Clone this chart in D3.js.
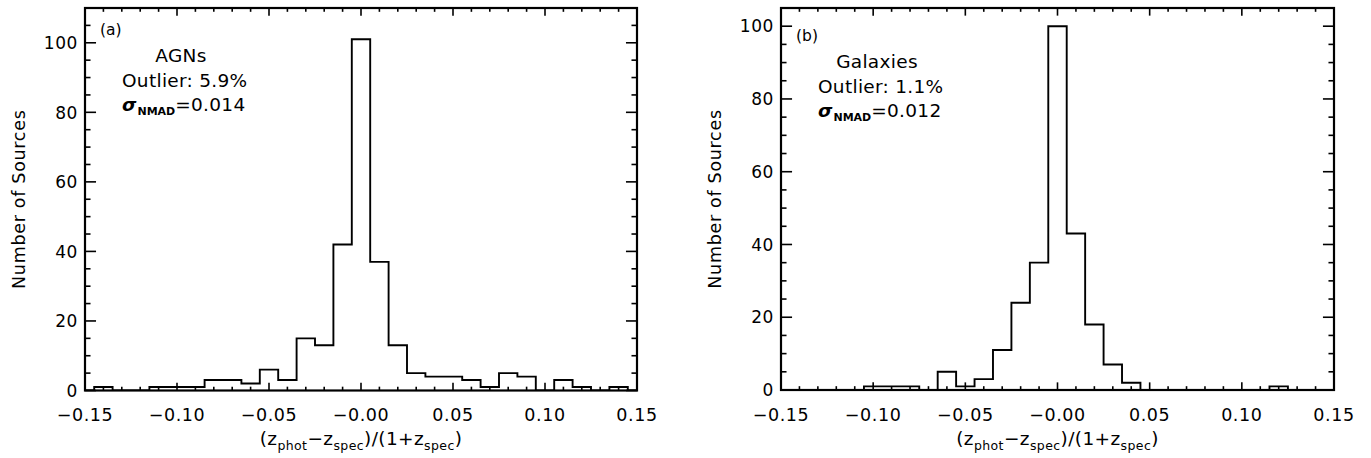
<!DOCTYPE html>
<html>
<head>
<meta charset="utf-8">
<script src="https://cdn.jsdelivr.net/npm/d3@7"></script>
<style>
  html, body { margin: 0; padding: 0; background: #fff; }
  svg { display: block; }
  text { font-family: "DejaVu Sans", sans-serif; fill: #000; }
</style>
</head>
<body>
<svg id="chart" width="1371" height="458"></svg>
<script>
// ---- data ----
const binCenters = [-0.15,-0.14,-0.13,-0.12,-0.11,-0.10,-0.09,-0.08,-0.07,-0.06,-0.05,-0.04,-0.03,-0.02,-0.01,0.00,
                    0.01,0.02,0.03,0.04,0.05,0.06,0.07,0.08,0.09,0.10,0.11,0.12,0.13,0.14,0.15];
const agnCounts    = [0,1,0,0,1,1,1,3,3,2,6,3,15,13,42,101,37,13,5,4,4,3,1,5,4,0,3,1,0,1,0];
const galaxyCounts = [0,0,0,0,0,1,1,1,0,5,1,3,11,24,35,100,43,18,7,2,0,0,0,0,0,0,0,1,0,0,0];

const xTickValues = [-0.15,-0.10,-0.05,0.00,0.05,0.10,0.15];
const xTickLabels = ["\u22120.15","\u22120.10","\u22120.05","\u22120.00","0.05","0.10","0.15"];
const yTickValues = [0,20,40,60,80,100];
const yTickLabels = ["0","20","40","60","80","100"];

const panelLetters = ["(a)","(b)"];
const panelNames   = ["AGNs","Galaxies"];
const outlierTexts = ["Outlier: 5.9%","Outlier: 1.1%"];
const nmadValues   = ["=0.014","=0.012"];
const yMaxValues   = [110,105];

// ---- layout ----
const svg = d3.select("#chart");
const panels = [
  {left: 85,  right: 637,  top: 8, bottom: 390.5, counts: agnCounts,    textShift: 0},
  {left: 781, right: 1334, top: 8, bottom: 390,   counts: galaxyCounts, textShift: 6}
];

panels.forEach((p, idx) => {
  const g = svg.append("g");
  const x = d3.scaleLinear().domain([-0.15, 0.15]).range([p.left, p.right]);
  const y = d3.scaleLinear().domain([0, yMaxValues[idx]]).range([p.bottom, p.top]);
  const W = p.right - p.left, H = p.bottom - p.top;
  const xMajLen = 0.02 * H, yMajLen = 0.02 * W;

  // clip
  const clipId = "clip" + idx;
  svg.append("clipPath").attr("id", clipId).append("rect")
    .attr("x", p.left).attr("y", p.top).attr("width", W).attr("height", H);

  // histogram step line
  const line = d3.line()
    .x((d, i) => x(binCenters[i]))
    .y(d => y(d))
    .curve(d3.curveStep);
  // extend half a bin on each end as IDL psym=10 does
  g.append("path")
    .attr("clip-path", `url(#${clipId})`)
    .attr("d", d3.line().x(d => x(d[0])).y(d => y(d[1])).curve(d3.curveStep)(
      [[binCenters[0] - 0.005, p.counts[0]]]
        .concat(binCenters.map((c, i) => [c, p.counts[i]]))
        .concat([[binCenters[binCenters.length - 1] + 0.005, p.counts[p.counts.length - 1]]])
    ))
    .attr("fill", "none").attr("stroke", "#000").attr("stroke-width", 1.9)
    .attr("stroke-linejoin", "miter");

  // ticks
  const tickG = g.append("g").attr("stroke", "#000").attr("stroke-width", 1.6);
  const xMinor = d3.range(-15, 16).map(v => v / 100);
  xMinor.forEach(v => {
    const major = xTickValues.some(t => Math.abs(t - v) < 1e-9);
    const len = major ? xMajLen : xMajLen / 2;
    const xx = x(v);
    tickG.append("line").attr("x1", xx).attr("x2", xx).attr("y1", p.bottom).attr("y2", p.bottom - len);
    tickG.append("line").attr("x1", xx).attr("x2", xx).attr("y1", p.top).attr("y2", p.top + len);
  });
  const yMinor = d3.range(0, yMaxValues[idx] + 0.001, 5);
  yMinor.forEach(v => {
    const major = yTickValues.includes(v);
    const len = major ? yMajLen : yMajLen / 2;
    const yy = y(v);
    tickG.append("line").attr("y1", yy).attr("y2", yy).attr("x1", p.left).attr("x2", p.left + len);
    tickG.append("line").attr("y1", yy).attr("y2", yy).attr("x1", p.right).attr("x2", p.right - len);
  });

  // frame
  g.append("rect").attr("x", p.left).attr("y", p.top).attr("width", W).attr("height", H)
    .attr("fill", "none").attr("stroke", "#000").attr("stroke-width", 2.2);

  // tick labels
  xTickValues.forEach((v, i) => {
    g.append("text").attr("x", x(v)).attr("y", 421)
      .attr("text-anchor", "middle").attr("font-size", 17.5).attr("letter-spacing", 0.6)
      .text(xTickLabels[i]);
  });
  yTickValues.forEach((v, i) => {
    g.append("text").attr("x", p.left - 7).attr("y", y(v) + 6.2)
      .attr("text-anchor", "end").attr("font-size", 17).attr("letter-spacing", 0.6)
      .text(yTickLabels[i]);
  });

  // axis titles
  g.append("text")
    .attr("transform", `translate(${p.left - 60},${(p.top + p.bottom) / 2 + 0}) rotate(-90)`)
    .attr("text-anchor", "middle").attr("font-size", 17.5).attr("letter-spacing", 0.7)
    .text("Number of Sources");

  const xl = g.append("text").attr("x", (p.left + p.right) / 2).attr("y", 445)
    .attr("text-anchor", "middle").attr("font-size", 18.5).attr("letter-spacing", 0.4);
  const sub = 12.5, sh = 5;
  xl.append("tspan").text("(z");
  xl.append("tspan").attr("font-size", sub).attr("dy", sh).text("phot");
  xl.append("tspan").attr("dy", -sh).text("\u2212z");
  xl.append("tspan").attr("font-size", sub).attr("dy", sh).text("spec");
  xl.append("tspan").attr("dy", -sh).text(")/(1+z");
  xl.append("tspan").attr("font-size", sub).attr("dy", sh).text("spec");
  xl.append("tspan").attr("dy", -sh).text(")");

  // annotations
  const ts = p.textShift;
  g.append("text").attr("x", p.left + 15).attr("y", 35 + ts).attr("font-size", 15.5)
    .text(panelLetters[idx]);
  g.append("text").attr("x", p.left + 96).attr("y", 62 + ts).attr("text-anchor", "middle")
    .attr("font-size", 18.5).attr("letter-spacing", 0.3).text(panelNames[idx]);
  g.append("text").attr("x", p.left + 37).attr("y", 87 + ts)
    .attr("font-size", 18.5).attr("letter-spacing", 0.3).text(outlierTexts[idx]);
  const s = g.append("text").attr("x", p.left + 37).attr("y", 111 + ts).attr("font-size", 18.5);
  s.append("tspan").attr("font-style", "italic").attr("font-weight", "bold").text("\u03C3");
  s.append("tspan").attr("font-size", 11).attr("font-weight", "bold").attr("dy", 4).attr("dx", 1).text("NMAD");
  s.append("tspan").attr("dy", -4).attr("letter-spacing", 0.3).text(nmadValues[idx]);
});
</script>
</body>
</html>
